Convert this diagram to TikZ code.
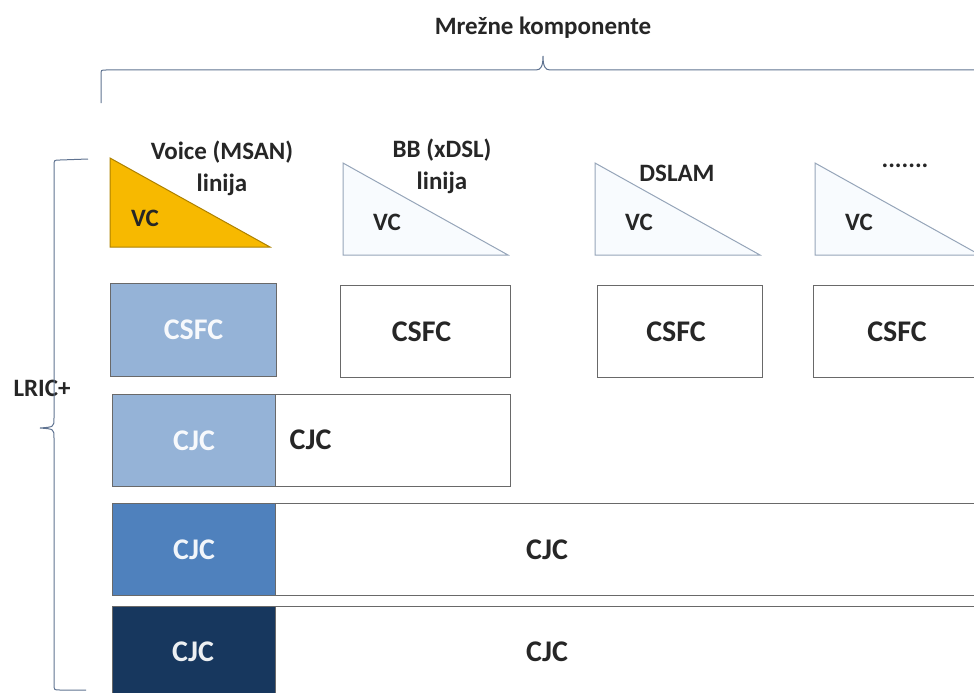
\documentclass[tikz,border=0pt]{standalone}
\usepackage{fontspec}
\setmainfont{Carlito}
\usetikzlibrary{positioning}
\definecolor{voiceorange}{RGB}{247,185,0}
\definecolor{lightblue}{RGB}{149,179,215}
\definecolor{midblue}{RGB}{79,129,189}
\definecolor{darkblue}{RGB}{23,55,94}
\definecolor{braceblue}{RGB}{95,115,145}
\definecolor{edgegray}{RGB}{105,105,105}
\definecolor{trigray}{RGB}{150,165,185}
\definecolor{trifill}{RGB}{248,251,254}

\begin{document}
\begin{tikzpicture}[x=1pt,y=-1pt,font=\bfseries\fontsize{25}{28}\selectfont,text=black!85]
  \tikzstyle{tri}=[draw=trigray,fill=trifill,line width=1pt]
  \tikzstyle{box}=[draw=edgegray,line width=1pt,anchor=north west,inner sep=0pt]
  \tikzstyle{big}=[font=\bfseries\fontsize{30}{34}\selectfont]
  \tikzstyle{brace}=[draw=braceblue,line width=1pt]

  \useasboundingbox (0,0) rectangle (974,693);
  \clip (0,0) rectangle (974,693);

  % top brace
  \node (mreza) at (543,28) {Mrežne komponente};
  \draw[brace] (101,103) -- (101,75) .. controls (101,70) .. (106,70) -- (536,70)
    .. controls (541,70) and (543,66) .. (543,56) .. controls (543,66) and (545,70) .. (550,70) -- (980,70);

  % left brace
  \node (lric) at (42,388) {LRIC+};
  \draw[brace] (88,159) -- (60,160) .. controls (54,160) .. (54,166) -- (54,418)
    .. controls (54,427) .. (40,428) .. controls (54,429) .. (54,438) -- (54,684)
    .. controls (54,690) .. (60,690) -- (86,690);

  % VC triangles
  \draw[tri,draw=voiceorange!70!black,fill=voiceorange] (110,158) -- (110,247) -- (270,247) -- cycle;
  \node (vcvoice) at (145,218) {VC};
  \foreach \x/\name in {343/bb,595/dslam,815/ostalo} {
    \draw[tri] (\x,163) -- (\x,255) -- (\x+165,255) -- cycle;
    \node (vc\name) at (\x+44,222) {VC};
  }
  \node (voice) at (222,152) {Voice (MSAN)};
  \node (voicelin) at (222,185) {linija};
  \node (bb) at (442,150) {BB (xDSL)};
  \node (bblin) at (442,183) {linija};
  \node (dslam) at (677,173) {DSLAM};
  \node (tocke) at (905,166) {.......};

  % CSFC
  \node[box,fill=lightblue,minimum width=166pt,minimum height=93pt] (csfcvoice) at (110,283) {};
  \node[big,text=white!92!lightblue] at (csfcvoice.center) {CSFC};
  \foreach \x/\w/\name in {340/170/bb,597/165/dslam,813/175/ostalo} {
    \node[box,minimum width=\w pt,minimum height=92pt] (csfc\name) at (\x,285) {};
    \node[big] at ([xshift=-4pt]csfc\name.center) {CSFC};
  }

  % CJC rows
  \node[box,minimum width=235pt,minimum height=92pt] (cjcrow1) at (275,394) {};
  \node[big,anchor=west] (cjc1) at (286,440) {CJC};
  \node[box,fill=lightblue,minimum width=163pt,minimum height=92pt] (cjcl1) at (112,394) {};
  \node[big,text=white!92!lightblue] at (cjcl1.center) {CJC};

  \node[box,minimum width=720pt,minimum height=92pt] (cjcrow2) at (275,503) {};
  \node[big] (cjc2) at (547,550) {CJC};
  \node[box,fill=midblue,minimum width=163pt,minimum height=92pt] (cjcl2) at (112,503) {};
  \node[big,text=white!92!midblue] at (cjcl2.center) {CJC};

  \node[box,minimum width=720pt,minimum height=100pt] (cjcrow3) at (275,606) {};
  \node[big] (cjc3) at (547,652) {CJC};
  \node[box,fill=darkblue,minimum width=163pt,minimum height=100pt] (cjcl3) at (112,606) {};
  \node[big,text=white!92!darkblue] at (112+81,652) {CJC};
\end{tikzpicture}
\end{document}
